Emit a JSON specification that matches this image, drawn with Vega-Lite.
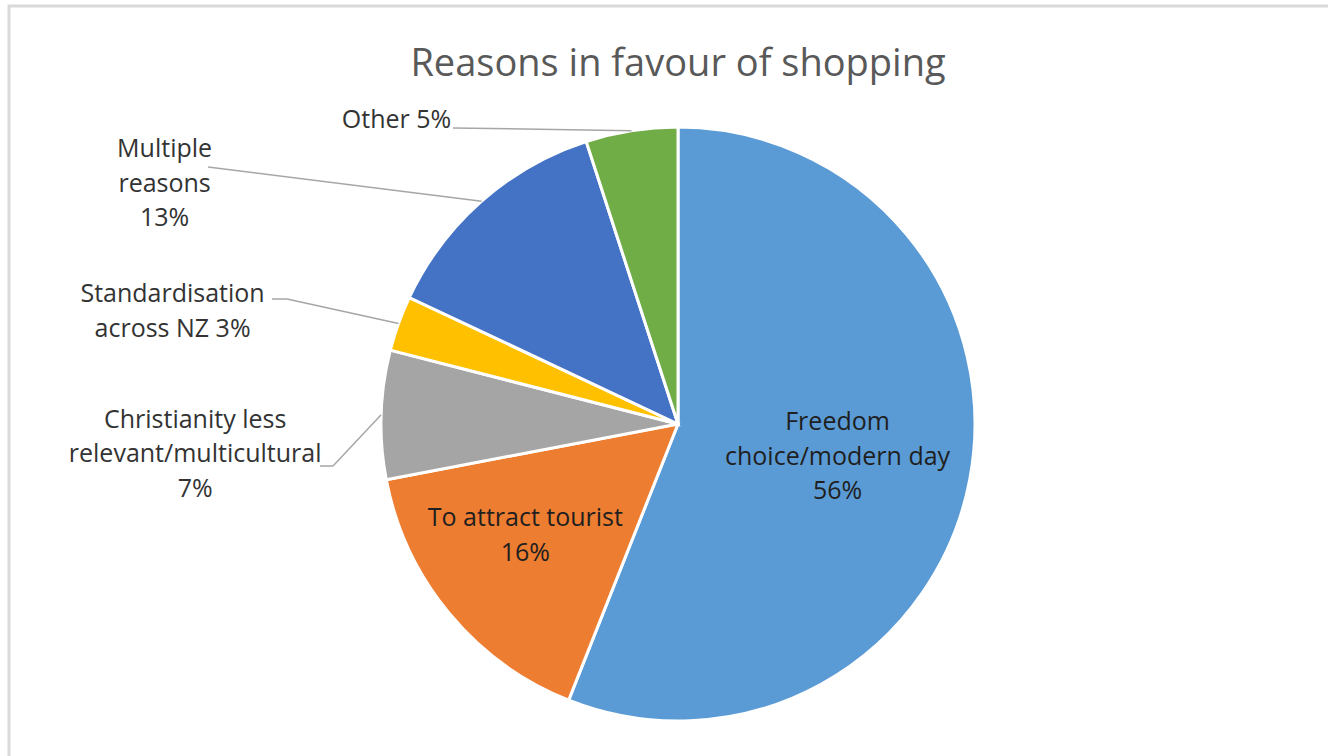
{
  "$schema": "https://vega.github.io/schema/vega-lite/v6.json",
  "width": 1338,
  "height": 836,
  "autosize": {"type": "none"},
  "padding": {"left": 9, "top": 6, "right": 0, "bottom": 0},
  "background": "white",
  "title": {
    "text": "Reasons in favour of shopping",
    "anchor": "middle",
    "frame": "group",
    "orient": "top",
    "offset": -70,
    "dy": 38,
    "baseline": "alphabetic",
    "fontSize": 38,
    "font": "Open Sans",
    "fontWeight": 400,
    "color": "#595959"
  },
  "config": {"view": {"stroke": "#D9D9D9", "strokeWidth": 3}},
  "data": {
    "values": [
      {"reason": "Freedom choice/modern day", "share": 56, "rank": 1, "label": "Freedom\nchoice/modern day\n56%"},
      {"reason": "To attract tourist", "share": 16, "rank": 2, "label": "To attract tourist\n16%"},
      {"reason": "Christianity less relevant/multicultural", "share": 7, "rank": 3, "label": "Christianity less\nrelevant/multicultural\n7%"},
      {"reason": "Standardisation across NZ", "share": 3, "rank": 4, "label": "Standardisation\nacross NZ 3%"},
      {"reason": "Multiple reasons", "share": 13, "rank": 5, "label": "Multiple\nreasons\n13%"},
      {"reason": "Other", "share": 5, "rank": 6, "label": "Other 5%"}
    ]
  },
  "layer": [
    {
      "mark": {"type": "arc", "outerRadius": 297, "stroke": "white", "strokeWidth": 3},
      "encoding": {
        "theta": {"field": "share", "type": "quantitative", "stack": true},
        "order": {"field": "rank", "type": "quantitative"},
        "color": {
          "field": "reason",
          "type": "nominal",
          "legend": null,
          "scale": {
            "domain": ["Freedom choice/modern day", "To attract tourist", "Christianity less relevant/multicultural", "Standardisation across NZ", "Multiple reasons", "Other"],
            "range": ["#5B9BD5", "#ED7D31", "#A5A5A5", "#FFC000", "#4472C4", "#70AD47"]
          }
        }
      }
    },
    {
      "transform": [
        {"joinaggregate": [{"op": "sum", "field": "share", "as": "total"}]},
        {"window": [{"op": "sum", "field": "share", "as": "cum"}], "sort": [{"field": "rank", "order": "ascending"}], "frame": [null, 0]},
        {"calculate": "2*PI*(datum.cum - datum.share/2)/datum.total", "as": "mid"},
        {"calculate": "297*sin(datum.mid)", "as": "ex"},
        {"calculate": "297*cos(datum.mid)", "as": "ey"},
        {"filter": "datum.rank >= 3"},
        {"calculate": "datum.rank === 3 ? -345 : datum.rank === 4 ? -391 : datum.rank === 5 ? -470 : -225", "as": "kx"},
        {"calculate": "datum.rank === 3 ? -42 : datum.rank === 4 ? 125 : datum.rank === 5 ? 257 : 296", "as": "ky"},
        {"calculate": "datum.rank === 3 ? -358 : datum.rank === 4 ? -406 : datum.kx", "as": "lx"}
      ],
      "layer": [
        {
          "mark": {"type": "rule", "color": "#A6A6A6", "strokeWidth": 1.5},
          "encoding": {
            "x": {"field": "ex", "type": "quantitative", "scale": {"domain": [-669, 669], "nice": false, "zero": false}, "axis": null},
            "y": {"field": "ey", "type": "quantitative", "scale": {"domain": [-418, 418], "nice": false, "zero": false}, "axis": null},
            "x2": {"field": "kx"},
            "y2": {"field": "ky"}
          }
        },
        {
          "mark": {"type": "rule", "color": "#A6A6A6", "strokeWidth": 1.5},
          "encoding": {
            "x": {"field": "kx", "type": "quantitative", "scale": {"domain": [-669, 669], "nice": false, "zero": false}, "axis": null},
            "y": {"field": "ky", "type": "quantitative", "scale": {"domain": [-418, 418], "nice": false, "zero": false}, "axis": null},
            "x2": {"field": "lx"},
            "y2": {"field": "ky"}
          }
        }
      ]
    },
    {
      "mark": {"type": "text", "radius": 194, "dx": -31, "dy": -38, "font": "Open Sans", "fontSize": 25, "lineHeight": 34.5, "lineBreak": "\n", "align": "center", "baseline": "middle", "color": "#1F1F1F"},
      "encoding": {
        "theta": {"field": "share", "type": "quantitative", "stack": true},
        "order": {"field": "rank", "type": "quantitative"},
        "detail": {"field": "reason", "type": "nominal"},
        "text": {"condition": {"test": "datum.rank === 1", "field": "label"}, "value": ""}
      }
    },
    {
      "mark": {"type": "text", "radius": 189, "dx": -7, "dy": -26, "font": "Open Sans", "fontSize": 25, "lineHeight": 34.5, "lineBreak": "\n", "align": "center", "baseline": "middle", "color": "#1F1F1F"},
      "encoding": {
        "theta": {"field": "share", "type": "quantitative", "stack": true},
        "order": {"field": "rank", "type": "quantitative"},
        "detail": {"field": "reason", "type": "nominal"},
        "text": {"condition": {"test": "datum.rank === 2", "field": "label"}, "value": ""}
      }
    },
    {
      "mark": {"type": "text", "radius": 297, "dx": -186, "dy": 5, "font": "Open Sans", "fontSize": 25, "lineHeight": 34.5, "lineBreak": "\n", "align": "center", "baseline": "middle", "color": "#333333"},
      "encoding": {
        "theta": {"field": "share", "type": "quantitative", "stack": true},
        "order": {"field": "rank", "type": "quantitative"},
        "detail": {"field": "reason", "type": "nominal"},
        "text": {"condition": {"test": "datum.rank === 3", "field": "label"}, "value": ""}
      }
    },
    {
      "mark": {"type": "text", "radius": 297, "dx": -226, "dy": -29, "font": "Open Sans", "fontSize": 25, "lineHeight": 34.5, "lineBreak": "\n", "align": "center", "baseline": "middle", "color": "#333333"},
      "encoding": {
        "theta": {"field": "share", "type": "quantitative", "stack": true},
        "order": {"field": "rank", "type": "quantitative"},
        "detail": {"field": "reason", "type": "nominal"},
        "text": {"condition": {"test": "datum.rank === 4", "field": "label"}, "value": ""}
      }
    },
    {
      "mark": {"type": "text", "radius": 297, "dx": -317, "dy": -52, "font": "Open Sans", "fontSize": 25, "lineHeight": 34.5, "lineBreak": "\n", "align": "center", "baseline": "middle", "color": "#333333"},
      "encoding": {
        "theta": {"field": "share", "type": "quantitative", "stack": true},
        "order": {"field": "rank", "type": "quantitative"},
        "detail": {"field": "reason", "type": "nominal"},
        "text": {"condition": {"test": "datum.rank === 5", "field": "label"}, "value": ""}
      }
    },
    {
      "mark": {"type": "text", "radius": 297, "dx": -235, "dy": -11, "font": "Open Sans", "fontSize": 25, "lineHeight": 34.5, "lineBreak": "\n", "align": "center", "baseline": "middle", "color": "#333333"},
      "encoding": {
        "theta": {"field": "share", "type": "quantitative", "stack": true},
        "order": {"field": "rank", "type": "quantitative"},
        "detail": {"field": "reason", "type": "nominal"},
        "text": {"condition": {"test": "datum.rank === 6", "field": "label"}, "value": ""}
      }
    }
  ]
}
